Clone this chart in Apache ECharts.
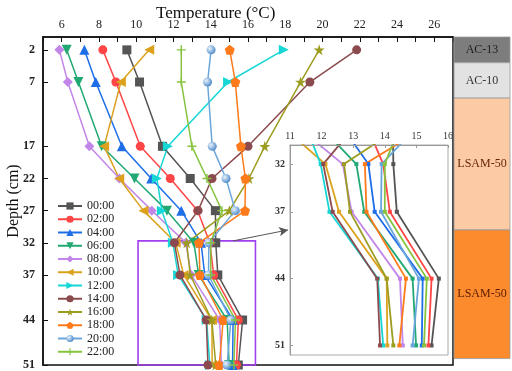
<!DOCTYPE html>
<html><head><meta charset="utf-8">
<script src="https://cdn.jsdelivr.net/npm/echarts@6/dist/echarts.min.js"></script>
<style>html,body{margin:0;padding:0;background:#fff}#c{width:512px;height:371px}</style>
</head><body><div id="c"></div>
<script>
const depths = [2, 7, 17, 22, 27, 32, 37, 44, 51];
const times = ['00:00','02:00','04:00','06:00','08:00','10:00','12:00','14:00','16:00','18:00','20:00','22:00'];
const t0000 = [9.5, 10.18, 11.41, 12.9, 14.25, 14.27, 14.38, 15.71, 15.48];
const t0200 = [8.21, 8.91, 10.22, 11.83, 13.3, 13.95, 14.16, 15.48, 15.38];
const t0400 = [7.22, 7.83, 9.23, 10.81, 12.42, 13.48, 13.68, 15.2, 15.17];
const t0600 = [6.27, 6.9, 8.15, 9.91, 11.65, 13.1, 13.35, 14.88, 14.99];
const t0800 = [5.88, 6.33, 7.49, 9.1, 10.84, 12.67, 12.95, 14.48, 14.57];
const t1000 = [10.7, 9.18, 8.28, 9.09, 10.39, 12.12, 12.55, 14.06, 14.08];
const t1200 = [17.92, 14.93, 11.7, 11.11, 11.38, 11.97, 12.25, 13.78, 13.95];
const t1400 = [21.83, 19.32, 16.0, 14.07, 13.32, 12.05, 12.35, 13.76, 13.85];
const t1600 = [19.82, 18.82, 16.9, 16.05, 15.0, 12.71, 12.9, 14.06, 14.27];
const t1800 = [15.02, 15.32, 15.62, 15.86, 15.84, 13.37, 13.42, 14.67, 14.46];
const t2000 = [14.02, 13.83, 14.08, 14.82, 15.32, 13.9, 13.88, 15.08, 14.88];
const t2200 = [12.42, 12.42, 12.99, 13.8, 14.6, 14.0, 14.0, 15.33, 15.24];
const seriesValues = [t0000,t0200,t0400,t0600,t0800,t1000,t1200,t1400,t1600,t1800,t2000,t2200];
const xTicksMain = [6, 8, 10, 12, 14, 16, 18, 20, 22, 24, 26];
const yTicksMain = [2, 7, 17, 22, 27, 32, 37, 44, 51];
const yTicksInset = [32, 37, 44, 51];
const layerNames = ['AC-13', 'AC-10', 'LSAM-50', 'LSAM-50'];
const layerTop = [0, 4, 9.5, 30];
const layerBottom = [4, 9.5, 30, 50];
const zoomBox = [[10.1, 31.7], [16.4, 51]];
const arrowLine = [[15.2, 31.7], [18.15, 30.0]];

const layerColors = ['#7d7d7d', '#e2e2e2', '#fdcaa6', '#fc8b2e'];
const layerText = ['#1e1e1e', '#333', '#6a2608', '#5a1c00'];
const colors = ['#555555','#ff4545','#1e6ee8','#22a872','#c286e8','#dca21e','#16d6d6','#8b4b4e','#9c9c20','#ff7a1a','#6aa6dc','#86c440'];
const sphere = {type:'radial', x:0.35, y:0.35, r:0.7, colorStops:[{offset:0,color:'#eaf3fd'},{offset:1,color:'#4a88c8'}]};
const symbols = ['rect','circle','triangle',
  'path://M0,0 L10,0 L5,9 Z',
  'diamond',
  'path://M10,0 L10,10 L1,5 Z',
  'path://M0,0 L9,5 L0,10 Z',
  'circle',
  'path://M5,0 L6.2,3.6 L10,3.6 L6.9,5.9 L8.1,9.5 L5,7.3 L1.9,9.5 L3.1,5.9 L0,3.6 L3.8,3.6 Z',
  'path://M5,0 L10,3.6 L8.1,9.5 L1.9,9.5 L0,3.6 Z',
  'circle',
  'path://M4.2,0 H5.8 V4.2 H10 V5.8 H5.8 V10 H4.2 V5.8 H0 V4.2 H4.2 Z'];
const sizes = [9,9,10,10,10,10,10,9,11,10,9,9];
const serif = '"Liberation Serif", "DejaVu Serif", serif';

const series = [];
seriesValues.forEach((vals, i) => {
  const s = {
    name: times[i], type: 'line', xAxisIndex: 0, yAxisIndex: 0,
    data: vals.map((v, k) => [v, depths[k]]),
    symbol: symbols[i], symbolSize: sizes[i],
    lineStyle: {color: colors[i], width: 1.5},
    itemStyle: {color: i === 10 ? sphere : colors[i]},
    z: 3, animation: false
  };
  if (i === 0) {
    s.markArea = {silent: true, itemStyle: {color: 'rgba(0,0,0,0)', borderColor: '#a23ff0', borderWidth: 1.6},
      data: [[{coord: zoomBox[0]}, {coord: zoomBox[1]}]]};
    s.markLine = {silent: true, symbol: ['none','arrow'], symbolSize: [7, 9], label: {show: false},
      lineStyle: {color: '#555', width: 1, type: 'solid'},
      data: [[{coord: arrowLine[0]}, {coord: arrowLine[1]}]]};
  }
  series.push(s);
});
seriesValues.forEach((vals, i) => {
  series.push({
    name: times[i], type: 'line', xAxisIndex: 1, yAxisIndex: 1,
    data: vals.map((v, k) => [v, depths[k]]),
    symbol: 'rect', symbolSize: 4, clip: true,
    lineStyle: {color: colors[i], width: 1.8},
    itemStyle: {color: colors[i]},
    z: 5, animation: false
  });
});
series.push({
  type: 'custom', xAxisIndex: 2, yAxisIndex: 2, animation: false,
  data: layerNames.map((n, i) => [layerTop[i], layerBottom[i], i]),
  renderItem: function (params, api) {
    const idx = api.value(2);
    const p0 = api.coord([0, api.value(0)]);
    const p1 = api.coord([1, api.value(1)]);
    return {
      type: 'rect',
      shape: {x: p0[0], y: p0[1], width: p1[0] - p0[0], height: p1[1] - p0[1]},
      style: {fill: layerColors[idx], stroke: '#9a9a9a', lineWidth: 0.8},
      textContent: {style: {text: layerNames[idx], fill: layerText[idx], font: '12px ' + serif}},
      textConfig: {position: 'inside'}
    };
  }
});

const chart = echarts.init(document.getElementById('c'), null, {renderer: 'canvas'});
chart.setOption({
  animation: false,
  backgroundColor: '#fff',
  title: {text: 'Temperature (°C)', left: 151, top: 0,
    textStyle: {fontFamily: serif, fontSize: 17, fontWeight: 'normal', color: '#111'}},
  legend: {
    data: times, orient: 'vertical', left: 57, top: 200, padding: 0, height: 300,
    itemWidth: 24, itemHeight: 9, itemGap: 1.25,
    textStyle: {fontFamily: serif, fontSize: 12, color: '#222'}
  },
  grid: [
    {left: 43, top: 37, width: 410, height: 328, outerBoundsMode: 'none', containLabel: false, show: true, borderColor: '#111', borderWidth: 1.5, backgroundColor: 'rgba(0,0,0,0)'},
    {left: 290, top: 145, width: 158, height: 210, outerBoundsMode: 'none', containLabel: false, show: true, borderColor: '#aaa', borderWidth: 1, backgroundColor: '#fff', z: 4},
    {left: 454, top: 37, width: 56, height: 328, outerBoundsMode: 'none', containLabel: false}
  ],
  xAxis: [
    {type: 'value', gridIndex: 0, position: 'top', min: 5, max: 27, interval: 1,
      axisLine: {show: true, lineStyle: {color: '#111', width: 1.5}},
      axisTick: {show: true, inside: true, length: 5, lineStyle: {color: '#111', width: 1}},
      axisLabel: {interval: 0, margin: 6, fontFamily: serif, fontSize: 12, color: '#222',
        formatter: v => xTicksMain.indexOf(v) >= 0 ? String(v) : ''},
      splitLine: {show: false}},
    {type: 'value', gridIndex: 1, position: 'top', min: 11, max: 16, interval: 1, z: 6,
      axisLine: {show: true, lineStyle: {color: '#999', width: 1}},
      axisTick: {show: true, inside: true, length: 3, lineStyle: {color: '#999'}},
      axisLabel: {margin: 4, fontFamily: serif, fontSize: 10, color: '#333'},
      splitLine: {show: false}},
    {type: 'value', gridIndex: 2, min: 0, max: 1, show: false}
  ],
  yAxis: [
    {type: 'value', gridIndex: 0, inverse: true, min: 0, max: 51,
      name: 'Depth (cm)', nameLocation: 'middle', nameGap: 21, nameRotate: 90, nameMoveOverlap: false,
      nameTextStyle: {fontFamily: serif, fontSize: 16, color: '#111'},
      axisLine: {show: true, lineStyle: {color: '#111', width: 1.5}},
      axisTick: {show: true, inside: true, length: 5, customValues: yTicksMain, lineStyle: {color: '#111'}},
      axisLabel: {customValues: yTicksMain, margin: 8, fontFamily: serif, fontSize: 12, color: '#222', fontWeight: 'bold'},
      splitLine: {show: false}},
    {type: 'value', gridIndex: 1, inverse: true, min: 30, max: 52, z: 6,
      axisLine: {show: true, lineStyle: {color: '#999', width: 1}},
      axisTick: {show: true, inside: true, length: 3, customValues: yTicksInset, lineStyle: {color: '#999'}},
      axisLabel: {customValues: yTicksInset, margin: 5, fontFamily: serif, fontSize: 10, color: '#333', fontWeight: 'bold'},
      splitLine: {show: false}},
    {type: 'value', gridIndex: 2, inverse: true, min: 0, max: 51, show: false}
  ],
  series: series
});
</script></body></html>
